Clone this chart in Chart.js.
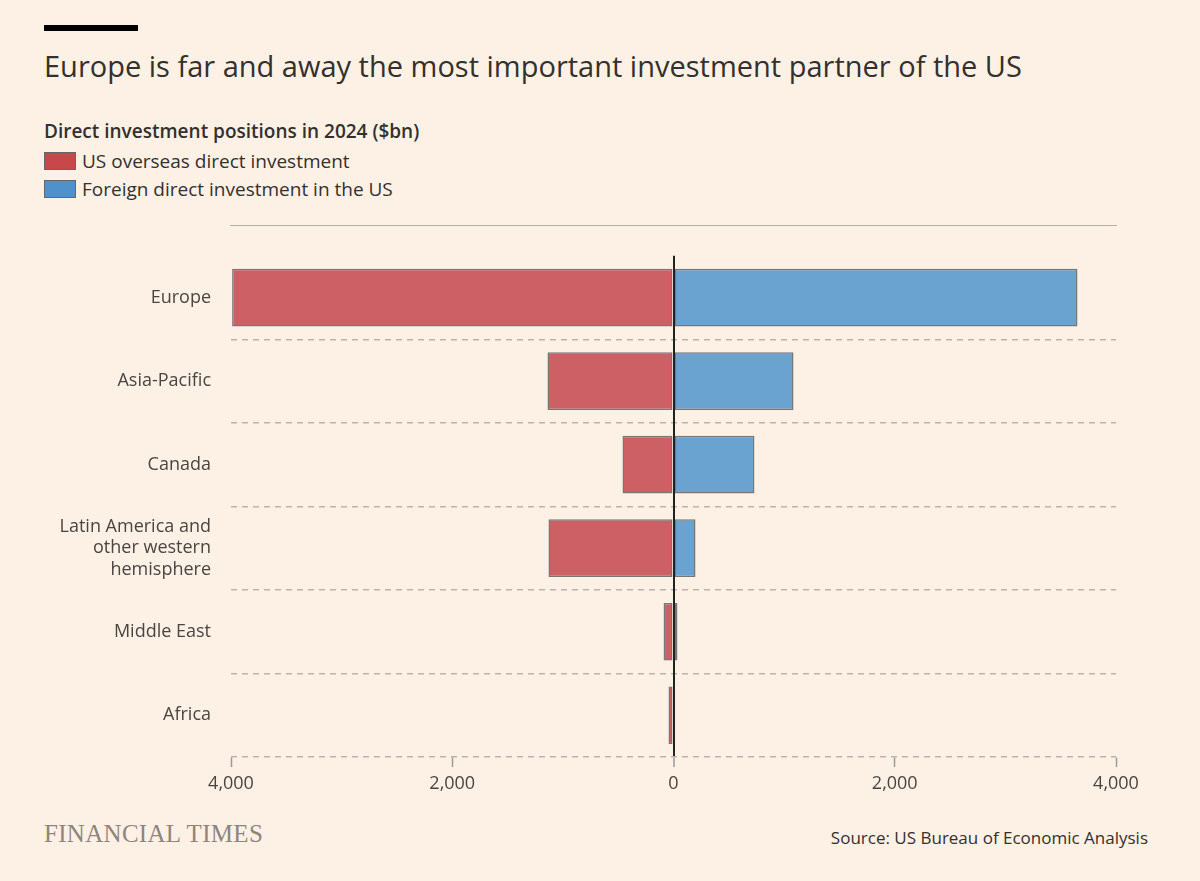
<!DOCTYPE html>
<html>
<head>
<meta charset="utf-8">
<script src="https://cdn.jsdelivr.net/npm/chart.js@4.4.0/dist/chart.umd.min.js"></script>
<style>
  body { margin: 0; background: #fdf1e5; width: 1200px; height: 881px; position: relative; overflow: hidden; font-family: "Open Sans", "Noto Sans", sans-serif; color: #33302e; }
  .bar { position: absolute; left: 44px; top: 25px; width: 94px; height: 6px; background: #000; }
  h1 { position: absolute; left: 44px; top: 46px; margin: 0; font-weight: 400; font-size: 29px; }
  .sub { position: absolute; left: 44px; top: 118px; font-weight: 600; font-size: 19px; }
  .leg { position: absolute; left: 44px; font-size: 19px; display: flex; align-items: center; }
  .sw { width: 32px; height: 18px; margin-right: 6px; border: 1px solid #666; box-sizing: border-box; }
  .ft { position: absolute; left: 44px; top: 820px; font-family: "Liberation Serif", "DejaVu Serif", serif; font-size: 25px; color: #8f857d; letter-spacing: 0.3px; }
  .src { position: absolute; right: 52px; top: 826px; font-size: 17px; }
  #wrap { position: absolute; left: 0; top: 225px; width: 1150px; height: 580px; }
</style>
</head>
<body>
<div class="bar"></div>
<h1>Europe is far and away the most important investment partner of the US</h1>
<div class="sub">Direct investment positions in 2024 ($bn)</div>
<div class="leg" style="top:148px"><div class="sw" style="background:#c8474b"></div>US overseas direct investment</div>
<div class="leg" style="top:176px"><div class="sw" style="background:#4f91cc"></div>Foreign direct investment in the US</div>
<div id="wrap"><canvas id="c"></canvas></div>
<div class="ft">FINANCIAL TIMES</div>
<div class="src">Source: US Bureau of Economic Analysis</div>
<script>
const regions = ["Europe", "Asia-Pacific", "Canada", ["Latin America and", "other western", "hemisphere"], "Middle East", "Africa"];
const usOverseas = [3990, 1139, 461, 1130, 90, 45];
const foreignInUs = [3652, 1085, 732, 199, 36, 9];
const xTicks = [-4000, -2000, 0, 2000, 4000];

new Chart(document.getElementById("c"), {
  type: "bar",
  data: {
    labels: regions,
    datasets: [
      { label: "US overseas direct investment", data: usOverseas.map(v => -v), backgroundColor: "#cc6065", borderColor: "#777", borderWidth: 1.5, borderSkipped: false },
      { label: "Foreign direct investment in the US", data: foreignInUs, backgroundColor: "#6aa2d0", borderColor: "#777", borderWidth: 1.5, borderSkipped: false }
    ]
  },
  options: {
    indexAxis: "y",
    responsive: true,
    maintainAspectRatio: false,
    animation: false,
    layout: { padding: { top: 12, right: 34 } },
    datasets: { bar: { categoryPercentage: 1, barPercentage: 0.69 } },
    plugins: { legend: { display: false }, tooltip: { enabled: false } },
    scales: {
      x: {
        stacked: true,
        min: -4000, max: 4000,
        afterBuildTicks: (s) => { s.ticks = xTicks.map(v => ({ value: v })); },
        afterFit: (s) => { s.height = 48; },
        border: { display: true, color: "#999", width: 1.5 },
        grid: {
          color: (ctx) => (ctx.tick && ctx.tick.value === 0 ? "#222" : "rgba(0,0,0,0)"),
          lineWidth: (ctx) => (ctx.tick && ctx.tick.value === 0 ? 2 : 1),
          tickColor: "#999", tickWidth: 1.5, tickLength: 10, z: 1
        },
        ticks: { color: "#4a4542", font: { family: "Open Sans", size: 18 }, padding: 6,
          callback: (v) => Math.abs(v).toLocaleString("en-US") }
      },
      y: {
        stacked: true,
        afterFit: (s) => { s.width = 231; },
        border: { display: false },
        grid: {
          offset: true,
          drawTicks: false,
          color: (ctx) => (ctx.index === 0 || ctx.index === regions.length ? "rgba(0,0,0,0)" : "#bbb3ab"),
          lineWidth: 1.5
        },
        border: { display: false, dash: [6, 5] },
        ticks: { color: "#4a4542", font: { family: "Open Sans", size: 18 }, padding: 20 }
      }
    }
  }
});
</script>
</body>
</html>
